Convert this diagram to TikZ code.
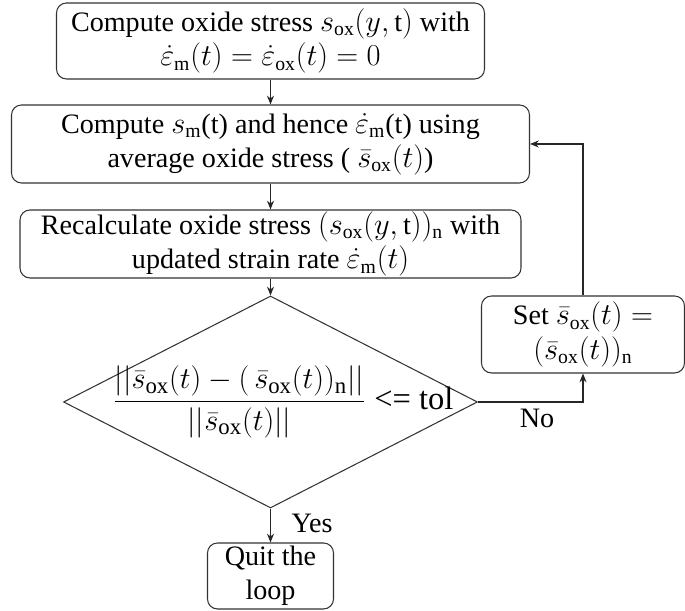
\documentclass[tikz,border=0pt]{standalone}
\usepackage{fontspec}
\setmainfont{Liberation Serif}
\usetikzlibrary{arrows.meta,shapes.geometric}

\begin{document}
\begin{tikzpicture}[
	stepbox/.style={draw=black!80, line width=0.6pt, rounded corners=0.2cm, align=center, inner sep=0pt},
	decision/.style={draw=black!80, line width=0.6pt, diamond, inner sep=0pt, minimum width=8.28cm, minimum height=4.24cm},
	flow/.style={-{Stealth[length=5pt,width=4pt]}, line width=0.6pt, black!85},
	every node/.style={font=\fontsize{16}{19.5}\selectfont}
]
	%%%%% START %%%%%
	\useasboundingbox (0, 0) rectangle (13.7, 12.22);
	
	\node[stepbox, minimum width=8.56cm, minimum height=1.52cm] (init) at (5.41, 11.4) {Compute oxide stress $s_{\mathrm{ox}}(y,\mathrm{t})$ with\\$\dot{\varepsilon}_{\mathrm{m}}(t)=\dot{\varepsilon}_{\mathrm{ox}}(t)=0$};
	
	\node[stepbox, minimum width=10.36cm, minimum height=1.56cm] (avg) at (5.41, 9.34) {Compute $s_{\mathrm{m}}$(t) and hence $\dot{\varepsilon}_{\mathrm{m}}$(t) using\\average oxide stress ( $\bar{s}_{\mathrm{ox}}(t)$)};
	
	\node[stepbox, minimum width=10.02cm, minimum height=1.36cm] (recalc) at (5.41, 7.34) {Recalculate oxide stress $(s_{\mathrm{ox}}(y,\mathrm{t}))_{\mathrm{n}}$ with\\updated strain rate $\dot{\varepsilon}_{\mathrm{m}}(t)$};
	
	\node[decision] (dec) at (5.41, 4.18) {};
	\node[font=\fontsize{18.5}{22}\selectfont] (crit) at (5.66, 4.18) {$\displaystyle\frac{||\bar{s}_{\mathrm{ox}}(t)-(\,\bar{s}_{\mathrm{ox}}(t))_{\mathrm{n}}||}{||\bar{s}_{\mathrm{ox}}(t)||}$ <= tol};
	
	\node[stepbox, minimum width=2.52cm, minimum height=1.32cm] (quit) at (5.41, 0.7) {Quit the\\loop};
	
	\node[stepbox, minimum width=4.06cm, minimum height=1.54cm] (set) at (11.66, 5.53) {Set $\bar{s}_{\mathrm{ox}}(t)=$\\$(\bar{s}_{\mathrm{ox}}(t))_{\mathrm{n}}$};
	
	\draw[flow] (init.south) -- (avg.north);
	\draw[flow] (avg.south) -- (recalc.north);
	\draw[flow] (recalc.south) -- (dec.north);
	\draw[flow] (dec.south) -- (quit.north);
	\draw[flow] (dec.east) -| (set.south);
	\draw[flow] (set.north) |- (avg.east);
	
	\node (yes) at (6.24, 1.76) {Yes};
	\node (no) at (10.74, 3.86) {No};
	
	%%%%% END %%%%%
\end{tikzpicture}
\end{document}
